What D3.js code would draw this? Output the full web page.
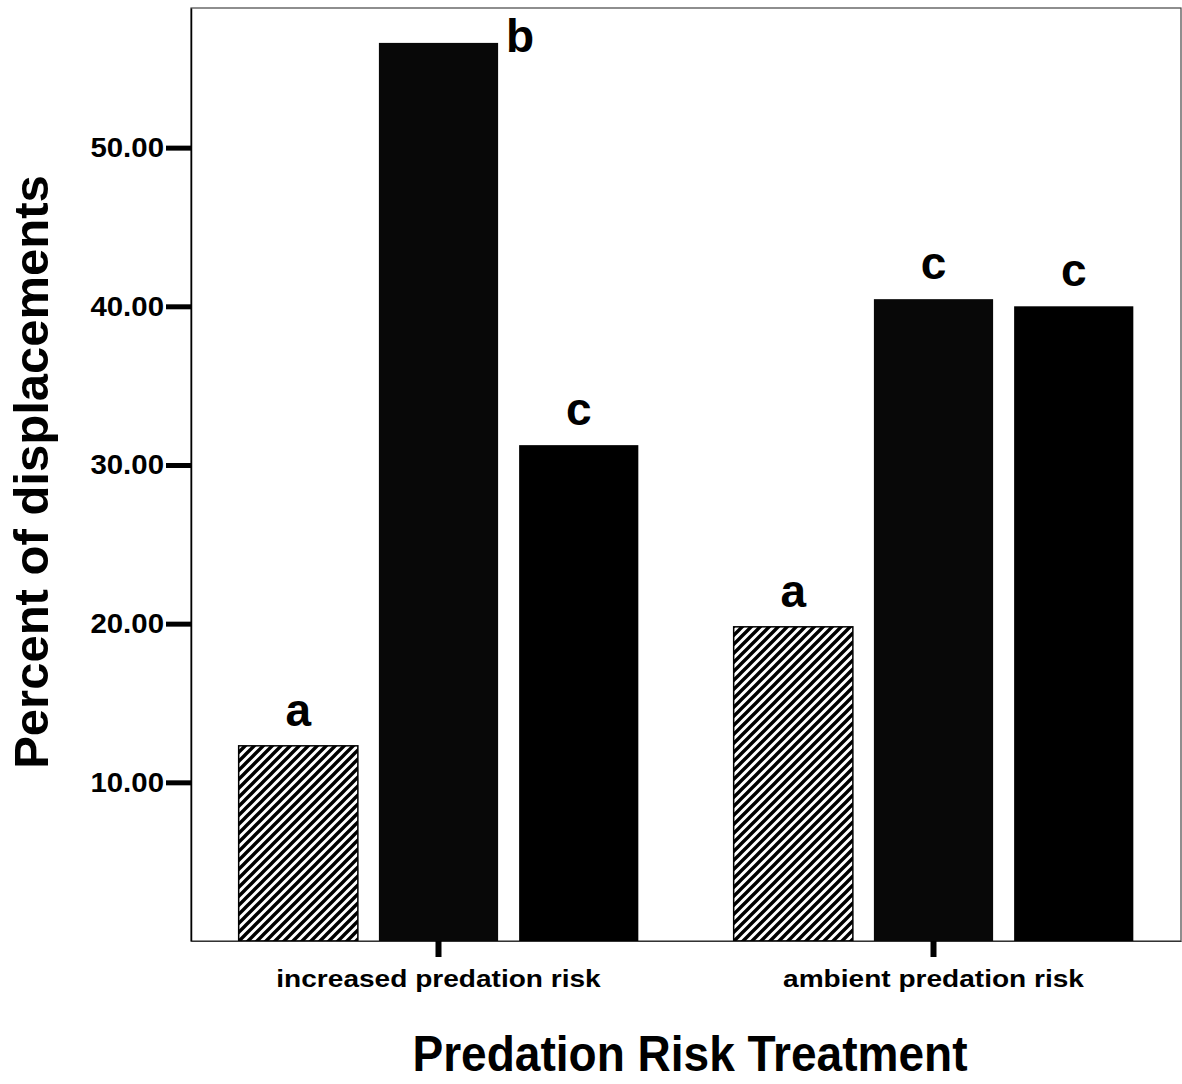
<!DOCTYPE html>
<html>
<head>
<meta charset="utf-8">
<script src="https://cdn.jsdelivr.net/npm/d3@7"></script>
<style>
  body { margin: 0; background: #fff; }
  svg { display: block; font-family: "Liberation Sans", Arial, sans-serif; }
</style>
</head>
<body>
<div id="chart-area"></div>
<script>
// DATA
var groups = ["increased predation risk", "ambient predation risk"];
var series = ["s1", "s2", "s3"];
var increasedValues = [12.3, 56.6, 31.25];
var ambientValues = [19.8, 40.45, 40.0];
var increasedLetters = ["a", "b", "c"];
var ambientLetters = ["a", "c", "c"];
var yTicks = [10, 20, 30, 40, 50];

var rows = [
    { group: groups[0], values: increasedValues, letters: increasedLetters },
    { group: groups[1], values: ambientValues, letters: ambientLetters }
];

// SIZE
var W = 1182, H = 1084;
var margin = { top: 8, right: 1, bottom: 143, left: 191 };
var width = W - margin.left - margin.right;
var height = H - margin.top - margin.bottom;

var svg = d3.select("#chart-area")
    .append("svg")
    .attr("width", W)
    .attr("height", H);

// hatch pattern for first series
var defs = svg.append("defs");
defs.append("pattern")
    .attr("id", "hatch")
    .attr("patternUnits", "userSpaceOnUse")
    .attr("width", 9)
    .attr("height", 9)
    .append("path")
    .attr("d", "M-2,2 L2,-2 M0,9 L9,0 M7,11 L11,7")
    .attr("stroke", "#000")
    .attr("stroke-width", 3.4);

var g = svg.append("g")
    .attr("transform", "translate(" + margin.left + "," + margin.top + ")");

// scales
var x0 = d3.scaleBand().domain(groups).range([0, width]).padding(0);
var x1 = d3.scaleBand().domain(series).range([0, x0.bandwidth()])
    .paddingInner(0.15).paddingOuter(0.34);
var y = d3.scaleLinear().domain([0, 58.8]).range([height, 0]);

// frame
g.append("rect")
    .attr("x", 0).attr("y", 0)
    .attr("width", width).attr("height", height)
    .attr("fill", "none")
    .attr("stroke", "#444")
    .attr("stroke-width", 1.2);

// bars
var grp = g.selectAll(".grp").data(rows).enter().append("g")
    .attr("class", "grp")
    .attr("transform", d => "translate(" + x0(d.group) + ",0)");

var barData = d => d.values.map((v, i) => ({ key: series[i], value: v, letter: d.letters[i] }));

grp.selectAll("rect.bar")
    .data(barData)
    .enter().append("rect")
    .attr("class", "bar")
    .attr("x", d => x1(d.key))
    .attr("y", d => y(d.value))
    .attr("width", x1.bandwidth())
    .attr("height", d => height - y(d.value))
    .attr("fill", d => d.key === "s1" ? "url(#hatch)" : (d.key === "s2" ? "#080808" : "#000"))
    .attr("stroke", d => d.key === "s1" ? "#000" : "none")
    .attr("stroke-width", 1.5);

// significance letters
grp.selectAll("text.letter")
    .data(barData)
    .enter().append("text")
    .attr("class", "letter")
    .attr("x", d => d.letter === "b" ? x1(d.key) + x1.bandwidth() + 22 : x1(d.key) + x1.bandwidth() / 2)
    .attr("y", d => d.letter === "b" ? y(d.value) + 9 : y(d.value) - 20)
    .attr("text-anchor", "middle")
    .attr("font-size", "46px")
    .attr("font-weight", "bold")
    .text(d => d.letter);

// y axis
var yAxisCall = d3.axisLeft(y)
    .tickValues(yTicks)
    .tickSize(25)
    .tickSizeOuter(0)
    .tickPadding(2)
    .tickFormat(d3.format(".2f"));
var yAxisGroup = g.append("g").call(yAxisCall);
yAxisGroup.select(".domain").attr("stroke", "#000").attr("stroke-width", 1.5);
yAxisGroup.selectAll(".tick line").attr("stroke", "#000").attr("stroke-width", 5);
yAxisGroup.selectAll(".tick text")
    .attr("font-size", "28px")
    .attr("font-weight", "bold")
    .attr("fill", "#000")
    .attr("font-family", "'Liberation Sans', Arial, sans-serif")
    .attr("textLength", function () { return this.getComputedTextLength() * 1.05; })
    .attr("lengthAdjust", "spacingAndGlyphs");

// x axis
var xAxisCall = d3.axisBottom(x0).tickSize(16).tickSizeOuter(0).tickPadding(14);
var xAxisGroup = g.append("g")
    .attr("transform", "translate(0," + height + ")")
    .call(xAxisCall);
xAxisGroup.select(".domain").attr("stroke", "#333").attr("stroke-width", 1.2);
xAxisGroup.selectAll(".tick line").attr("stroke", "#000").attr("stroke-width", 6);
xAxisGroup.selectAll(".tick text")
    .attr("font-size", "23px")
    .attr("font-weight", "bold")
    .attr("fill", "#000")
    .attr("font-family", "'Liberation Sans', Arial, sans-serif")
    .attr("textLength", function () { return this.getComputedTextLength() * 1.22; })
    .attr("lengthAdjust", "spacingAndGlyphs");

// axis titles
svg.append("text")
    .attr("x", 690)
    .attr("y", 1071)
    .attr("text-anchor", "middle")
    .attr("font-size", "50px")
    .attr("font-weight", "bold")
    .attr("textLength", 555)
    .attr("lengthAdjust", "spacingAndGlyphs")
    .text("Predation Risk Treatment");

svg.append("text")
    .attr("transform", "translate(48,472) rotate(-90)")
    .attr("text-anchor", "middle")
    .attr("font-size", "49px")
    .attr("font-weight", "bold")
    .text("Percent of displacements");
</script>
</body>
</html>
